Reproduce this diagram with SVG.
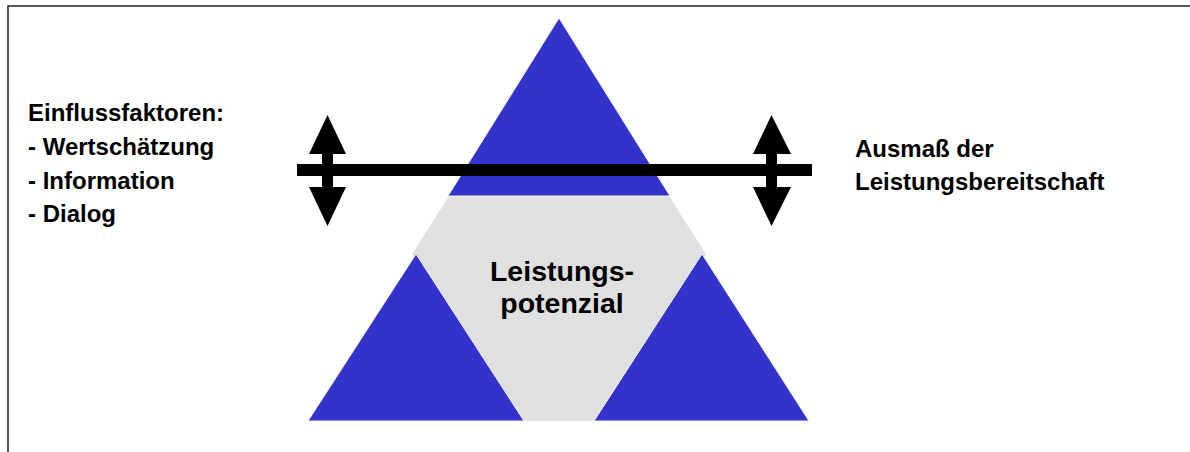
<svg xmlns="http://www.w3.org/2000/svg" width="1190" height="452" viewBox="0 0 1190 452">
<style>
.blue{fill:#3333CC;stroke:#F2F2F2;stroke-width:1}
.gray{fill:#E0E0E0;stroke:#F2F2F2;stroke-width:1}
.t{font-family:"Liberation Sans",Arial,sans-serif;font-weight:bold;fill:#000}
.s{font-size:24px}
.c{font-size:28.5px;text-anchor:middle}
.frame{fill:none;stroke:#222;stroke-width:1.5}
</style>
<rect width="1190" height="452" fill="#fff"/>
<path class="frame" d="M8,452 V6 H1190"/>
<g id="hexagon"><polygon class="gray" points="449,196 669,196 706,254 594,421 524,421 412,254"/></g>
<g id="top-triangle"><polygon class="blue" points="559,18 670,196 448,196"/></g>
<g id="bottom-left-triangle"><polygon class="blue" points="416,254 524,421 308,421"/></g>
<g id="bottom-right-triangle"><polygon class="blue" points="702,254 809,421 594,421"/></g>
<g id="connectors">
<rect x="297" y="164" width="515" height="12" fill="#000"/>
<g id="arrow-left">
<rect x="322" y="150" width="11" height="41" fill="#000"/>
<polygon points="327.5,115 346,154 309,154" fill="#000"/>
<polygon points="309,187 346,187 327.5,226" fill="#000"/>
</g>
<g id="arrow-right">
<rect x="766" y="150" width="11" height="41" fill="#000"/>
<polygon points="771.5,115 791,154 753,154" fill="#000"/>
<polygon points="753,187 791,187 771.5,226" fill="#000"/>
</g>
</g>
<g id="label-left" class="t s">
<text x="28" y="121">Einflussfaktoren:</text>
<text x="28" y="155">- Wertschätzung</text>
<text x="28" y="189">- Information</text>
<text x="28" y="222">- Dialog</text>
</g>
<g id="label-right" class="t s">
<text x="855" y="157">Ausmaß der</text>
<text x="855" y="190">Leistungsbereitschaft</text>
</g>
<g id="label-center" class="t c">
<text x="562" y="281">Leistungs-</text>
<text x="562" y="313">potenzial</text>
</g>
</svg>
